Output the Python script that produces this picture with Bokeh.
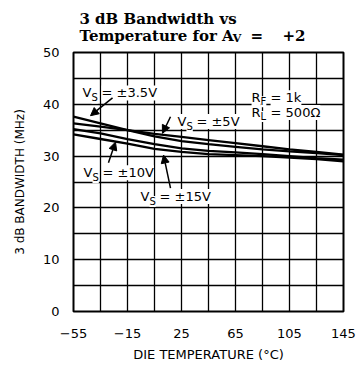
from bokeh.plotting import figure
from bokeh.models import Range1d, FixedTicker, Label, Arrow, NormalHead
from bokeh.layouts import column
from bokeh.embed import file_html
from bokeh.resources import INLINE

# ---- data ----
temperature = [-55, -35, -15, 5, 25, 45, 65, 85, 105, 125, 145]
bw_3v5 = [37.6, 36.3, 35.0, 33.8, 32.9, 32.3, 31.8, 31.3, 30.9, 30.6, 30.2]
bw_5v = [36.3, 35.7, 35.0, 34.3, 33.7, 33.1, 32.5, 31.9, 31.3, 30.8, 30.3]
bw_10v = [35.2, 34.4, 33.3, 32.3, 31.5, 31.0, 30.7, 30.4, 30.0, 29.6, 29.3]
bw_15v = [34.2, 33.3, 32.4, 31.4, 30.8, 30.4, 30.2, 30.0, 29.7, 29.4, 29.0]
x_tick_labels = [-55, -15, 25, 65, 105, 145]
y_tick_labels = [0, 10, 20, 30, 40, 50]
x_grid = list(range(-55, 146, 20))
y_grid = list(range(0, 51, 5))

SANS = "DejaVu Sans"
SERIF = "DejaVu Serif"

# ---- title panel (same horizontal frame as the chart) ----
t = figure(width=356, height=44, output_backend="svg", toolbar_location=None,
           x_range=Range1d(-55, 145), y_range=Range1d(0, 44),
           x_axis_type=None, y_axis_type=None,
           min_border_left=73, min_border_right=13, min_border_top=0, min_border_bottom=0)
t.outline_line_color = None
t.xgrid.visible = False
t.ygrid.visible = False

def tlab(x, y, text, size="15px"):
    t.add_layout(Label(x=x, y=y, text=text, text_font=SERIF, text_font_size=size,
                       text_font_style="bold", text_baseline="alphabetic",
                       text_color="black"))

tlab(-50.6, 26, "3 dB Bandwidth vs")
tlab(-50.6, 9, "Temperature for A")
tlab(63.0, 6, "V", size="11px")
tlab(76.1, 9, "=")
tlab(99.8, 9, "+2")

# ---- main chart ----
p = figure(width=356, height=320, output_backend="svg", toolbar_location=None,
           x_range=Range1d(-55, 145), y_range=Range1d(0, 50),
           min_border_left=73, min_border_right=13, min_border_top=8, min_border_bottom=50)
p.background_fill_color = "white"
p.border_fill_color = "white"
p.outline_line_color = "black"
p.outline_line_width = 2

p.xaxis.ticker = FixedTicker(ticks=x_tick_labels)
p.yaxis.ticker = FixedTicker(ticks=y_tick_labels)
p.xgrid.ticker = FixedTicker(ticks=x_grid)
p.ygrid.ticker = FixedTicker(ticks=y_grid)
for g in (p.xgrid, p.ygrid):
    g.grid_line_color = "black"
    g.grid_line_width = 1.3
    g.grid_line_alpha = 1.0
for ax in (p.xaxis, p.yaxis):
    ax.axis_line_color = None
    ax.major_tick_line_color = None
    ax.minor_tick_line_color = None
    ax.major_label_text_font = SANS
    ax.major_label_text_font_size = "13px"
    ax.major_label_text_color = "black"
    ax.axis_label_text_font = SANS
    ax.axis_label_text_font_style = "normal"
    ax.axis_label_text_color = "black"
p.xaxis.major_label_standoff = 11
p.yaxis.major_label_standoff = 8
p.xaxis.axis_label = "DIE TEMPERATURE (°C)"
p.xaxis.axis_label_text_font_size = "13px"
p.xaxis.axis_label_standoff = 6
p.yaxis.axis_label = "3 dB BANDWIDTH (MHz)"
p.yaxis.axis_label_text_font_size = "12px"
p.yaxis.axis_label_standoff = 13

for series in (bw_3v5, bw_5v, bw_10v, bw_15v):
    p.line(temperature, series, line_color="black", line_width=2.3)

def lab(x, y, text, size="13px", xo=0, yo=0):
    p.add_layout(Label(x=x, y=y, text=text, x_offset=xo, y_offset=yo,
                       text_font=SANS, text_font_size=size,
                       text_baseline="alphabetic", text_color="black",
                       background_fill_color="white"))

def vs(x, y, rest):
    lab(x, y, "V")
    lab(x, y, "S", size="10px", xo=9, yo=-5)
    lab(x, y, "= " + rest, xo=19)

vs(-48.3, 42.2, "±3.5V")
vs(22.0, 36.7, "±5V")
vs(-47.6, 26.8, "±10V")
vs(-5.4, 22.2, "±15V")

lab(76.9, 41.25, "R")
lab(76.9, 41.25, "F", size="10px", xo=9, yo=-4)
lab(76.9, 41.25, "= 1k", xo=19)
lab(76.9, 38.4, "R")
lab(76.9, 38.4, "L", size="10px", xo=9, yo=-4)
lab(76.9, 38.4, "= 500Ω", xo=19)

def arrow(x0, y0, x1, y1):
    p.add_layout(Arrow(x_start=x0, y_start=y0, x_end=x1, y_end=y1, line_width=1.5,
                       end=NormalHead(size=8, fill_color="black", line_color="black")))

arrow(-26.1, 41.25, -42.4, 37.8)
arrow(16.85, 37.6, 10.9, 34.4)
arrow(-29.1, 28.7, -23.9, 32.7)
arrow(16.85, 23.8, 11.7, 30.2)

layout = column(t, p, spacing=0)
open("out.html", "w").write(file_html(layout, INLINE))
